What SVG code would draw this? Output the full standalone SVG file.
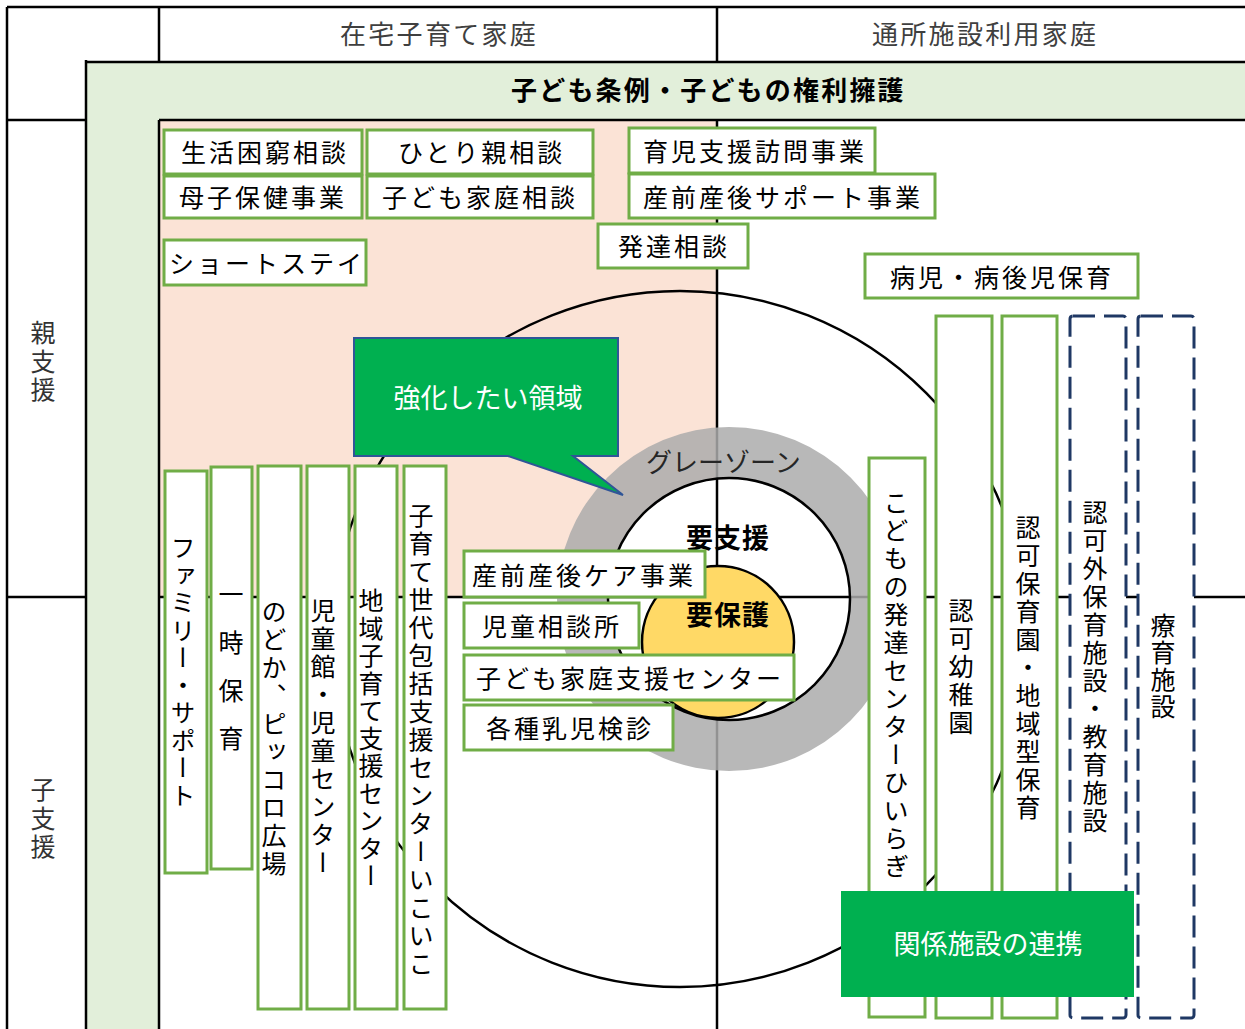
<svg xmlns="http://www.w3.org/2000/svg" width="1245" height="1029" viewBox="0 0 1245 1029">
<style>
  text { font-family: "Noto Sans CJK JP", "Noto Sans CJK SC", sans-serif; fill: #000; }
  .ln { stroke: #000; stroke-width: 2.5; fill: none; }
  .box { fill: #fff; stroke: #70ad47; stroke-width: 3; }
  .dbox { fill: #fff; stroke: #1f3864; stroke-width: 3; stroke-dasharray: 22 9; }
  .t { font-size: 25px; letter-spacing: 3px; }
  .vt { font-size: 25px; letter-spacing: 3px; writing-mode: vertical-rl; }
  .hd { font-size: 26px; letter-spacing: 2.3px; fill: #3f3f3f; }
  .side { font-size: 25px; letter-spacing: 3.5px; writing-mode: vertical-rl; fill: #333; }
  .call { font-size: 27px; fill: #fff; text-anchor: middle; }
  .bold { font-weight: bold; }
</style>

<!-- backgrounds -->
<rect x="86" y="62" width="1159" height="58" fill="#e2efda"/>
<rect x="86" y="120" width="73" height="909" fill="#e2efda"/>
<rect x="159" y="120" width="558" height="477" fill="#fbe3d6"/>

<!-- big circle -->
<circle cx="680" cy="639" r="348" class="ln"/>
<!-- inner white circle fill -->
<circle cx="729" cy="599" r="121" fill="#fff"/>

<g id="frame">
  <path class="ln" d="M7 7 H1245 M7 7 V1029 M159 7 V62 M717 7 V62 M86 60 V1029 M86 62 H1245 M7 120 H86 M159 120 H1245 M159 120 V1029 M717 120 V1029 M7 597 H86 M159 597 H1245"/>
</g>

<!-- grey zone ring -->
<path d="M729 427 A172 172 0 1 0 729 771 A172 172 0 1 0 729 427 Z M729 478 A121 121 0 1 1 729 720 A121 121 0 1 1 729 478 Z" fill="#acacac" fill-opacity="0.85" fill-rule="evenodd"/>
<circle cx="729" cy="599" r="121" class="ln"/>
<circle cx="718" cy="642" r="76" fill="#ffd966" stroke="#000" stroke-width="2.5"/>

<g id="zone-labels">
  <text x="646" y="472" style="font-size:26px; fill:#262626">グレーゾーン</text>
  <text x="686" y="548" class="bold" style="font-size:27px; letter-spacing:1px">要支援</text>
  <text x="686" y="625" class="bold" style="font-size:27px; letter-spacing:1px">要保護</text>
</g>

<g id="headers">
  <text x="340" y="44" class="hd">在宅子育て家庭</text>
  <text x="872" y="44" class="hd">通所施設利用家庭</text>
  <text x="511" y="100" class="bold" style="font-size:26px; letter-spacing:2.2px">子ども条例・子どもの権利擁護</text>
  <text x="43" y="320" class="side">親支援</text>
  <text x="43" y="777" class="side">子支援</text>
</g>

<g id="n1"><rect x="164" y="130" width="198" height="44" class="box"/><text x="181" y="161.5" class="t">生活困窮相談</text></g>
<g id="n2"><rect x="367" y="130" width="226" height="44" class="box"/><text x="398" y="161.5" class="t">ひとり親相談</text></g>
<g id="n3"><rect x="164" y="176" width="198" height="42" class="box"/><text x="179" y="206.5" class="t">母子保健事業</text></g>
<g id="n4"><rect x="367" y="176" width="226" height="42" class="box"/><text x="382" y="206.5" class="t">子ども家庭相談</text></g>
<g id="n5"><rect x="164" y="240" width="202" height="45" class="box"/><text x="169" y="272.5" class="t">ショートステイ</text></g>
<g id="n6"><rect x="629" y="128" width="246" height="45" class="box"/><text x="643" y="160.5" class="t">育児支援訪問事業</text></g>
<g id="n7"><rect x="629" y="174" width="306" height="44" class="box"/><text x="643" y="206.5" class="t">産前産後サポート事業</text></g>
<g id="n8"><rect x="598" y="224" width="150" height="44" class="box"/><text x="618" y="255.5" class="t">発達相談</text></g>
<g id="n9"><rect x="865" y="254" width="273" height="44" class="box"/><text x="890" y="286.5" class="t">病児・病後児保育</text></g>

<g id="n10"><rect x="464" y="551" width="241" height="46" class="box"/><text x="472" y="584.5" class="t">産前産後ケア事業</text></g>
<g id="n11"><rect x="464" y="603" width="175" height="45" class="box"/><text x="482" y="635.5" class="t">児童相談所</text></g>
<g id="n12"><rect x="464" y="655" width="330" height="45" class="box"/><text x="476" y="687.5" class="t">子ども家庭支援センター</text></g>
<g id="n13"><rect x="464" y="705" width="209" height="45" class="box"/><text x="486" y="737.5" class="t">各種乳児検診</text></g>

<g id="n14"><rect x="165" y="471" width="42" height="402" class="box"/><text x="183" y="535" class="vt" style="letter-spacing:2.5px">ファミリー・サポート</text></g>
<g id="n15"><rect x="211" y="467" width="41" height="402" class="box"/><text x="231" y="582" class="vt" style="letter-spacing:23px">一時保育</text></g>
<g id="n16"><rect x="258" y="466" width="43" height="543" class="box"/><text x="274" y="599" class="vt">のどか、ピッコロ広場</text></g>
<g id="n17"><rect x="307" y="466" width="42" height="543" class="box"/><text x="323" y="598" class="vt">児童館・児童センター</text></g>
<g id="n18"><rect x="355" y="466" width="42" height="543" class="box"/><text x="371" y="588" class="vt" style="letter-spacing:2.5px">地域子育て支援センター</text></g>
<g id="n19"><rect x="404" y="466" width="42" height="543" class="box"/><text x="421" y="503" class="vt">子育て世代包括支援センターいこいこ</text></g>

<g id="n20"><rect x="869" y="458" width="56" height="559" class="box"/><text x="896" y="490" class="vt">こどもの発達センターひいらぎ</text></g>
<g id="n21"><rect x="936" y="316" width="56" height="702" class="box"/><text x="961" y="598" class="vt">認可幼稚園</text></g>
<g id="n22"><rect x="1002" y="316" width="55" height="702" class="box"/><text x="1028" y="515" class="vt">認可保育園・地域型保育</text></g>
<g id="n23"><rect x="1070" y="316" width="56" height="702" rx="3" class="dbox"/><text x="1095" y="500" class="vt">認可外保育施設・教育施設</text></g>
<g id="n24"><rect x="1138" y="316" width="56" height="702" rx="3" class="dbox"/><text x="1163" y="613" class="vt" style="letter-spacing:2px">療育施設</text></g>

<g id="callout-focus">
  <path d="M354 338 H618 V456 H573 L623 495 L508 456 H354 Z" fill="#00b050" stroke="#2f5597" stroke-width="2"/>
  <text x="488" y="408" class="call">強化したい領域</text>
</g>
<g id="callout-link">
  <rect x="841" y="891" width="293" height="106" fill="#00b050"/>
  <text x="988" y="954" class="call">関係施設の連携</text>
</g>
<g id="connectors"></g>
</svg>
